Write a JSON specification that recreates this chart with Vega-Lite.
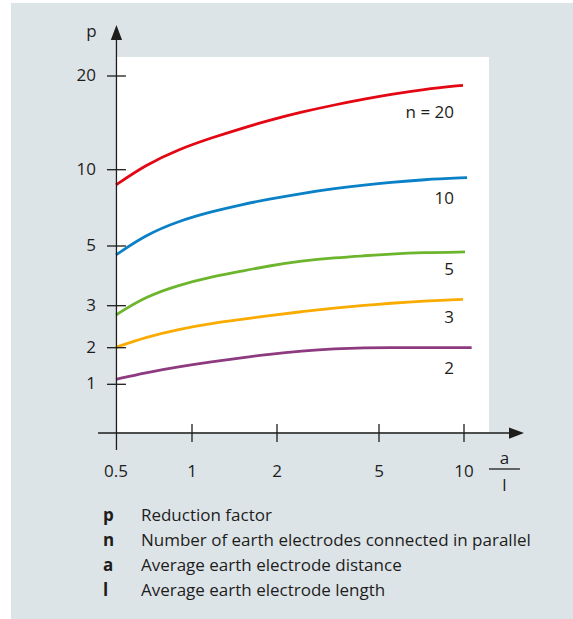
{
  "$schema": "https://vega.github.io/schema/vega-lite/v6.json",
  "width": 562,
  "height": 616,
  "autosize": {"type": "none"},
  "padding": {"left": 11, "top": 3, "right": 0, "bottom": 0},
  "background": "white",
  "config": {
    "view": {"fill": "#dde4e8", "stroke": null},
    "axis": {"disable": true},
    "font": "Open Sans",
    "text": {"font": "Open Sans", "color": "#1d1d1b", "fontSize": 17}
  },
  "layer": [
    {
      "data": {"values": [{}]},
      "mark": {"type": "rect", "fill": "white"},
      "encoding": {
        "x": {"datum": 0.5, "type": "quantitative", "axis": null,
              "scale": {"type": "linear", "domain": [0.5, 1, 2, 5, 10], "range": [105, 181, 266, 368, 453], "nice": false, "zero": false}},
        "x2": {"datum": 11.47},
        "y": {"datum": -0.303, "type": "quantitative", "axis": null,
              "scale": {"type": "linear", "domain": [1, 2, 3, 5, 10, 20], "range": [381.3, 344.7, 302.7, 243, 166.7, 73], "nice": false, "zero": false}},
        "y2": {"datum": 22.03}
      }
    },
    {
      "data": {"values": [
        {"n": "20", "a_l": 0.5, "p": 9.0}, {"n": "20", "a_l": 0.693, "p": 10.5}, {"n": "20", "a_l": 0.9125, "p": 12.18},
        {"n": "20", "a_l": 1.235, "p": 13.42}, {"n": "20", "a_l": 1.588, "p": 14.42}, {"n": "20", "a_l": 1.898, "p": 15.25},
        {"n": "20", "a_l": 2.726, "p": 16.16}, {"n": "20", "a_l": 3.706, "p": 16.93}, {"n": "20", "a_l": 4.588, "p": 17.55},
        {"n": "20", "a_l": 5.647, "p": 18.03}, {"n": "20", "a_l": 7.588, "p": 18.57}, {"n": "20", "a_l": 9.94, "p": 19.01},
        {"n": "10", "a_l": 0.5, "p": 4.7}, {"n": "10", "a_l": 0.693, "p": 5.72}, {"n": "10", "a_l": 0.9125, "p": 6.64},
        {"n": "10", "a_l": 1.235, "p": 7.26}, {"n": "10", "a_l": 1.588, "p": 7.72}, {"n": "10", "a_l": 1.898, "p": 8.06},
        {"n": "10", "a_l": 2.726, "p": 8.45}, {"n": "10", "a_l": 3.706, "p": 8.77}, {"n": "10", "a_l": 4.588, "p": 9.0},
        {"n": "10", "a_l": 5.647, "p": 9.17}, {"n": "10", "a_l": 7.588, "p": 9.35}, {"n": "10", "a_l": 10.18, "p": 9.48},
        {"n": "5", "a_l": 0.5, "p": 2.78}, {"n": "5", "a_l": 0.693, "p": 3.3}, {"n": "5", "a_l": 0.9125, "p": 3.69},
        {"n": "5", "a_l": 1.235, "p": 3.97}, {"n": "5", "a_l": 1.588, "p": 4.16}, {"n": "5", "a_l": 1.898, "p": 4.33},
        {"n": "5", "a_l": 2.726, "p": 4.5}, {"n": "5", "a_l": 3.706, "p": 4.61}, {"n": "5", "a_l": 4.588, "p": 4.675},
        {"n": "5", "a_l": 5.647, "p": 4.73}, {"n": "5", "a_l": 7.588, "p": 4.78}, {"n": "5", "a_l": 10.06, "p": 4.8},
        {"n": "3", "a_l": 0.5, "p": 2.01}, {"n": "3", "a_l": 0.693, "p": 2.25}, {"n": "3", "a_l": 0.9125, "p": 2.44},
        {"n": "3", "a_l": 1.235, "p": 2.58}, {"n": "3", "a_l": 1.588, "p": 2.676}, {"n": "3", "a_l": 1.898, "p": 2.76},
        {"n": "3", "a_l": 2.726, "p": 2.86}, {"n": "3", "a_l": 3.706, "p": 2.945}, {"n": "3", "a_l": 4.588, "p": 3.013},
        {"n": "3", "a_l": 5.647, "p": 3.08}, {"n": "3", "a_l": 7.588, "p": 3.157}, {"n": "3", "a_l": 9.94, "p": 3.214},
        {"n": "2", "a_l": 0.5, "p": 1.137}, {"n": "2", "a_l": 0.693, "p": 1.317}, {"n": "2", "a_l": 0.9125, "p": 1.48},
        {"n": "2", "a_l": 1.235, "p": 1.617}, {"n": "2", "a_l": 1.588, "p": 1.727}, {"n": "2", "a_l": 1.898, "p": 1.82},
        {"n": "2", "a_l": 2.726, "p": 1.91}, {"n": "2", "a_l": 3.706, "p": 1.973}, {"n": "2", "a_l": 4.588, "p": 2.0},
        {"n": "2", "a_l": 5.647, "p": 2.0}, {"n": "2", "a_l": 7.588, "p": 2.0}, {"n": "2", "a_l": 10.45, "p": 2.0}
      ]},
      "mark": {"type": "line", "interpolate": "basis", "strokeWidth": 2.8, "strokeCap": "butt"},
      "encoding": {
        "x": {"field": "a_l", "type": "quantitative", "axis": null},
        "y": {"field": "p", "type": "quantitative", "axis": null},
        "color": {"field": "n", "type": "nominal", "legend": null,
                  "scale": {"domain": ["20", "10", "5", "3", "2"], "range": ["#e30613", "#0a80c6", "#6cb52d", "#f9ab00", "#8e3a80"]}}
      }
    },
    {
      "data": {"values": [{}]},
      "mark": {"type": "rule", "color": "#1d1d1b", "strokeWidth": 1.3},
      "encoding": {
        "x": {"datum": 0.382, "type": "quantitative"},
        "x2": {"datum": 12.9},
        "y": {"datum": -0.331, "type": "quantitative"}
      }
    },
    {
      "data": {"values": [{}]},
      "mark": {"type": "rule", "color": "#1d1d1b", "strokeWidth": 1.3},
      "encoding": {
        "x": {"datum": 0.503, "type": "quantitative"},
        "y": {"datum": -0.795, "type": "quantitative"},
        "y2": {"datum": 24.4}
      }
    },
    {
      "data": {"values": [{}]},
      "mark": {"type": "point", "shape": "M0,-1L0.75,1L-0.75,1Z", "size": 225, "filled": true, "opacity": 1, "color": "#1d1d1b", "strokeWidth": 0},
      "encoding": {
        "x": {"datum": 0.503, "type": "quantitative"},
        "y": {"datum": 24.64, "type": "quantitative"}
      }
    },
    {
      "data": {"values": [{}]},
      "mark": {"type": "point", "shape": "M1,0L-1,-0.75L-1,0.75Z", "size": 225, "filled": true, "opacity": 1, "color": "#1d1d1b", "strokeWidth": 0},
      "encoding": {
        "x": {"datum": 13.09, "type": "quantitative"},
        "y": {"datum": -0.331, "type": "quantitative"}
      }
    },
    {
      "data": {"values": [{"v": 1, "t": "1"}, {"v": 2, "t": "2"}, {"v": 3, "t": "3"}, {"v": 5, "t": "5"}, {"v": 10, "t": "10"}, {"v": 20, "t": "20"}]},
      "layer": [
        {
          "mark": {"type": "tick", "orient": "horizontal", "size": 19, "thickness": 1.3, "color": "#1d1d1b", "opacity": 1},
          "encoding": {
            "x": {"datum": 0.503, "type": "quantitative"},
            "y": {"field": "v", "type": "quantitative"}
          }
        },
        {
          "mark": {"type": "text", "align": "right", "baseline": "middle", "fontSize": 17},
          "encoding": {
            "x": {"datum": 0.368, "type": "quantitative"},
            "y": {"field": "v", "type": "quantitative"},
            "text": {"field": "t", "type": "nominal"}
          }
        }
      ]
    },
    {
      "data": {"values": [{"v": 1}, {"v": 2}, {"v": 5}, {"v": 10}]},
      "mark": {"type": "tick", "orient": "vertical", "size": 18, "thickness": 1.3, "color": "#1d1d1b", "opacity": 1},
      "encoding": {
        "x": {"field": "v", "type": "quantitative"},
        "y": {"datum": -0.331, "type": "quantitative"}
      }
    },
    {
      "data": {"values": [{"v": 0.5, "t": "0.5"}, {"v": 1, "t": "1"}, {"v": 2, "t": "2"}, {"v": 5, "t": "5"}, {"v": 10, "t": "10"}]},
      "mark": {"type": "text", "align": "center", "baseline": "alphabetic", "fontSize": 17},
      "encoding": {
        "x": {"field": "v", "type": "quantitative"},
        "y": {"datum": -1.533, "type": "quantitative"},
        "text": {"field": "t", "type": "nominal"}
      }
    },
    {
      "data": {"values": [{"t": "a", "a_l": 12.38, "p": -1.164}, {"t": "l", "a_l": 12.38, "p": -1.902}, {"t": "p", "a_l": 0.339, "p": 24.16}]},
      "mark": {"type": "text", "align": "center", "baseline": "alphabetic", "fontSize": 17},
      "encoding": {
        "x": {"field": "a_l", "type": "quantitative"},
        "y": {"field": "p", "type": "quantitative"},
        "text": {"field": "t", "type": "nominal"}
      }
    },
    {
      "data": {"values": [{}]},
      "mark": {"type": "rule", "color": "#1d1d1b", "strokeWidth": 1.3},
      "encoding": {
        "x": {"datum": 11.47, "type": "quantitative"},
        "x2": {"datum": 13.29},
        "y": {"datum": -1.314, "type": "quantitative"}
      }
    },
    {
      "data": {"values": [
        {"t": "n = 20", "a_l": 9.41, "p": 16.02},
        {"t": "10", "a_l": 9.41, "p": 8.06},
        {"t": "5", "a_l": 9.41, "p": 4.2},
        {"t": "3", "a_l": 9.41, "p": 2.7},
        {"t": "2", "a_l": 9.41, "p": 1.42}
      ]},
      "mark": {"type": "text", "align": "right", "baseline": "middle", "fontSize": 17},
      "encoding": {
        "x": {"field": "a_l", "type": "quantitative"},
        "y": {"field": "p", "type": "quantitative"},
        "text": {"field": "t", "type": "nominal"}
      }
    },
    {
      "data": {"values": [{}]},
      "mark": {"type": "text", "text": ["p", "n", "a", "l"], "align": "left", "baseline": "alphabetic", "fontWeight": "bold", "fontSize": 17, "lineHeight": 25},
      "encoding": {
        "x": {"datum": 0.414, "type": "quantitative"},
        "y": {"datum": -2.735, "type": "quantitative"}
      }
    },
    {
      "data": {"values": [{}]},
      "mark": {"type": "text", "text": ["Reduction factor", "Number of earth electrodes connected in parallel", "Average earth electrode distance", "Average earth electrode length"], "align": "left", "baseline": "alphabetic", "fontSize": 17, "lineHeight": 25},
      "encoding": {
        "x": {"datum": 0.664, "type": "quantitative"},
        "y": {"datum": -2.735, "type": "quantitative"}
      }
    }
  ]
}
